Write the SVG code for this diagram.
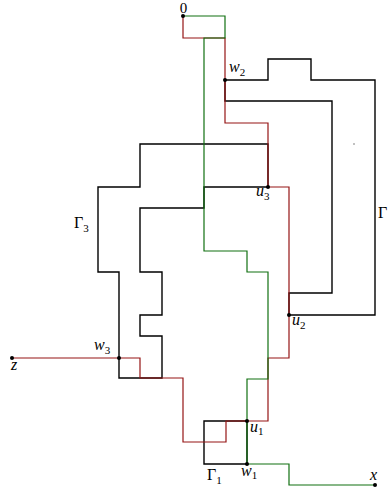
<svg xmlns="http://www.w3.org/2000/svg" width="390" height="491" viewBox="0 0 390 491">
<style>
.b{fill:none;stroke:#000;stroke-width:1.4;stroke-linejoin:miter}
.r{fill:none;stroke:#951515;stroke-width:1.2}
.g{fill:none;stroke:#117011;stroke-width:1.2}
.d{fill:#000}
text{font-family:"Liberation Serif","DejaVu Serif",serif;font-size:16px;fill:#000}
.i{font-style:italic}
.s{font-size:11px;font-style:normal}
.z{font-size:15px}
</style>
<rect width="390" height="491" fill="#fff"/>
<g id="connectors">
<g id="gamma3"><path class="b" d="M140,144 H268 V187 H204 V208 H140 V272 H162 V315 H140 V336 H162 V378 H119 V272 H98 V187 H140 Z"/></g>
<g id="gamma2"><path class="b" d="M225,80 H268 V59 H311 V80 H375 V315 H289 V293 H332 V101 H225 Z"/></g>
<g id="gamma1"><path class="b" d="M204,421 H247 V464 H204 Z"/></g>
<path id="red-path" class="r" d="M12,358 H140 V378 H183 V442 H226 V421 H268 V358 H289 V187 H268 V123 H225 V38 H183 V16"/>
<path id="green-path" class="g" d="M183,16 H225 V38 H204 V251 H247 V272 H268 V379 H247 V464 H289 V485 H375"/>
</g>
<g id="n0"><circle class="d" cx="183" cy="16" r="2"/><text class="z" x="183.5" y="12.5" text-anchor="middle">0</text></g>
<g id="w2"><circle class="d" cx="225" cy="80" r="2"/><text x="229" y="72" class="i">w<tspan class="s" dy="3.5">2</tspan></text></g>
<g id="u3"><circle class="d" cx="268" cy="187" r="2"/><text x="256" y="196" class="i">u<tspan class="s" dy="3.5">3</tspan></text></g>
<g id="u2"><circle class="d" cx="289" cy="315" r="2"/><text x="292" y="325" class="i">u<tspan class="s" dy="3.5">2</tspan></text></g>
<g id="w3"><circle class="d" cx="119" cy="358" r="2"/><text x="94" y="350" class="i">w<tspan class="s" dy="3.5">3</tspan></text></g>
<g id="z"><circle class="d" cx="12" cy="358" r="2"/><text x="11" y="370" class="i">z</text></g>
<g id="u1"><circle class="d" cx="247" cy="421" r="2"/><text x="250" y="432" class="i">u<tspan class="s" dy="3">1</tspan></text></g>
<g id="w1"><circle class="d" cx="247" cy="464" r="2"/><text x="241" y="476" class="i">w<tspan class="s" dy="3">1</tspan></text></g>
<g id="x"><circle class="d" cx="375" cy="485" r="2"/><text x="370" y="480" class="i">x</text></g>
<g id="labels">
<text x="207" y="480">Γ<tspan class="s" dy="4">1</tspan></text>
<text x="74" y="228">Γ<tspan class="s" dy="4">3</tspan></text>
<text x="378" y="218">Γ</text>
<circle cx="354" cy="144" r="0.7" fill="#555"/>
</g>
</svg>
